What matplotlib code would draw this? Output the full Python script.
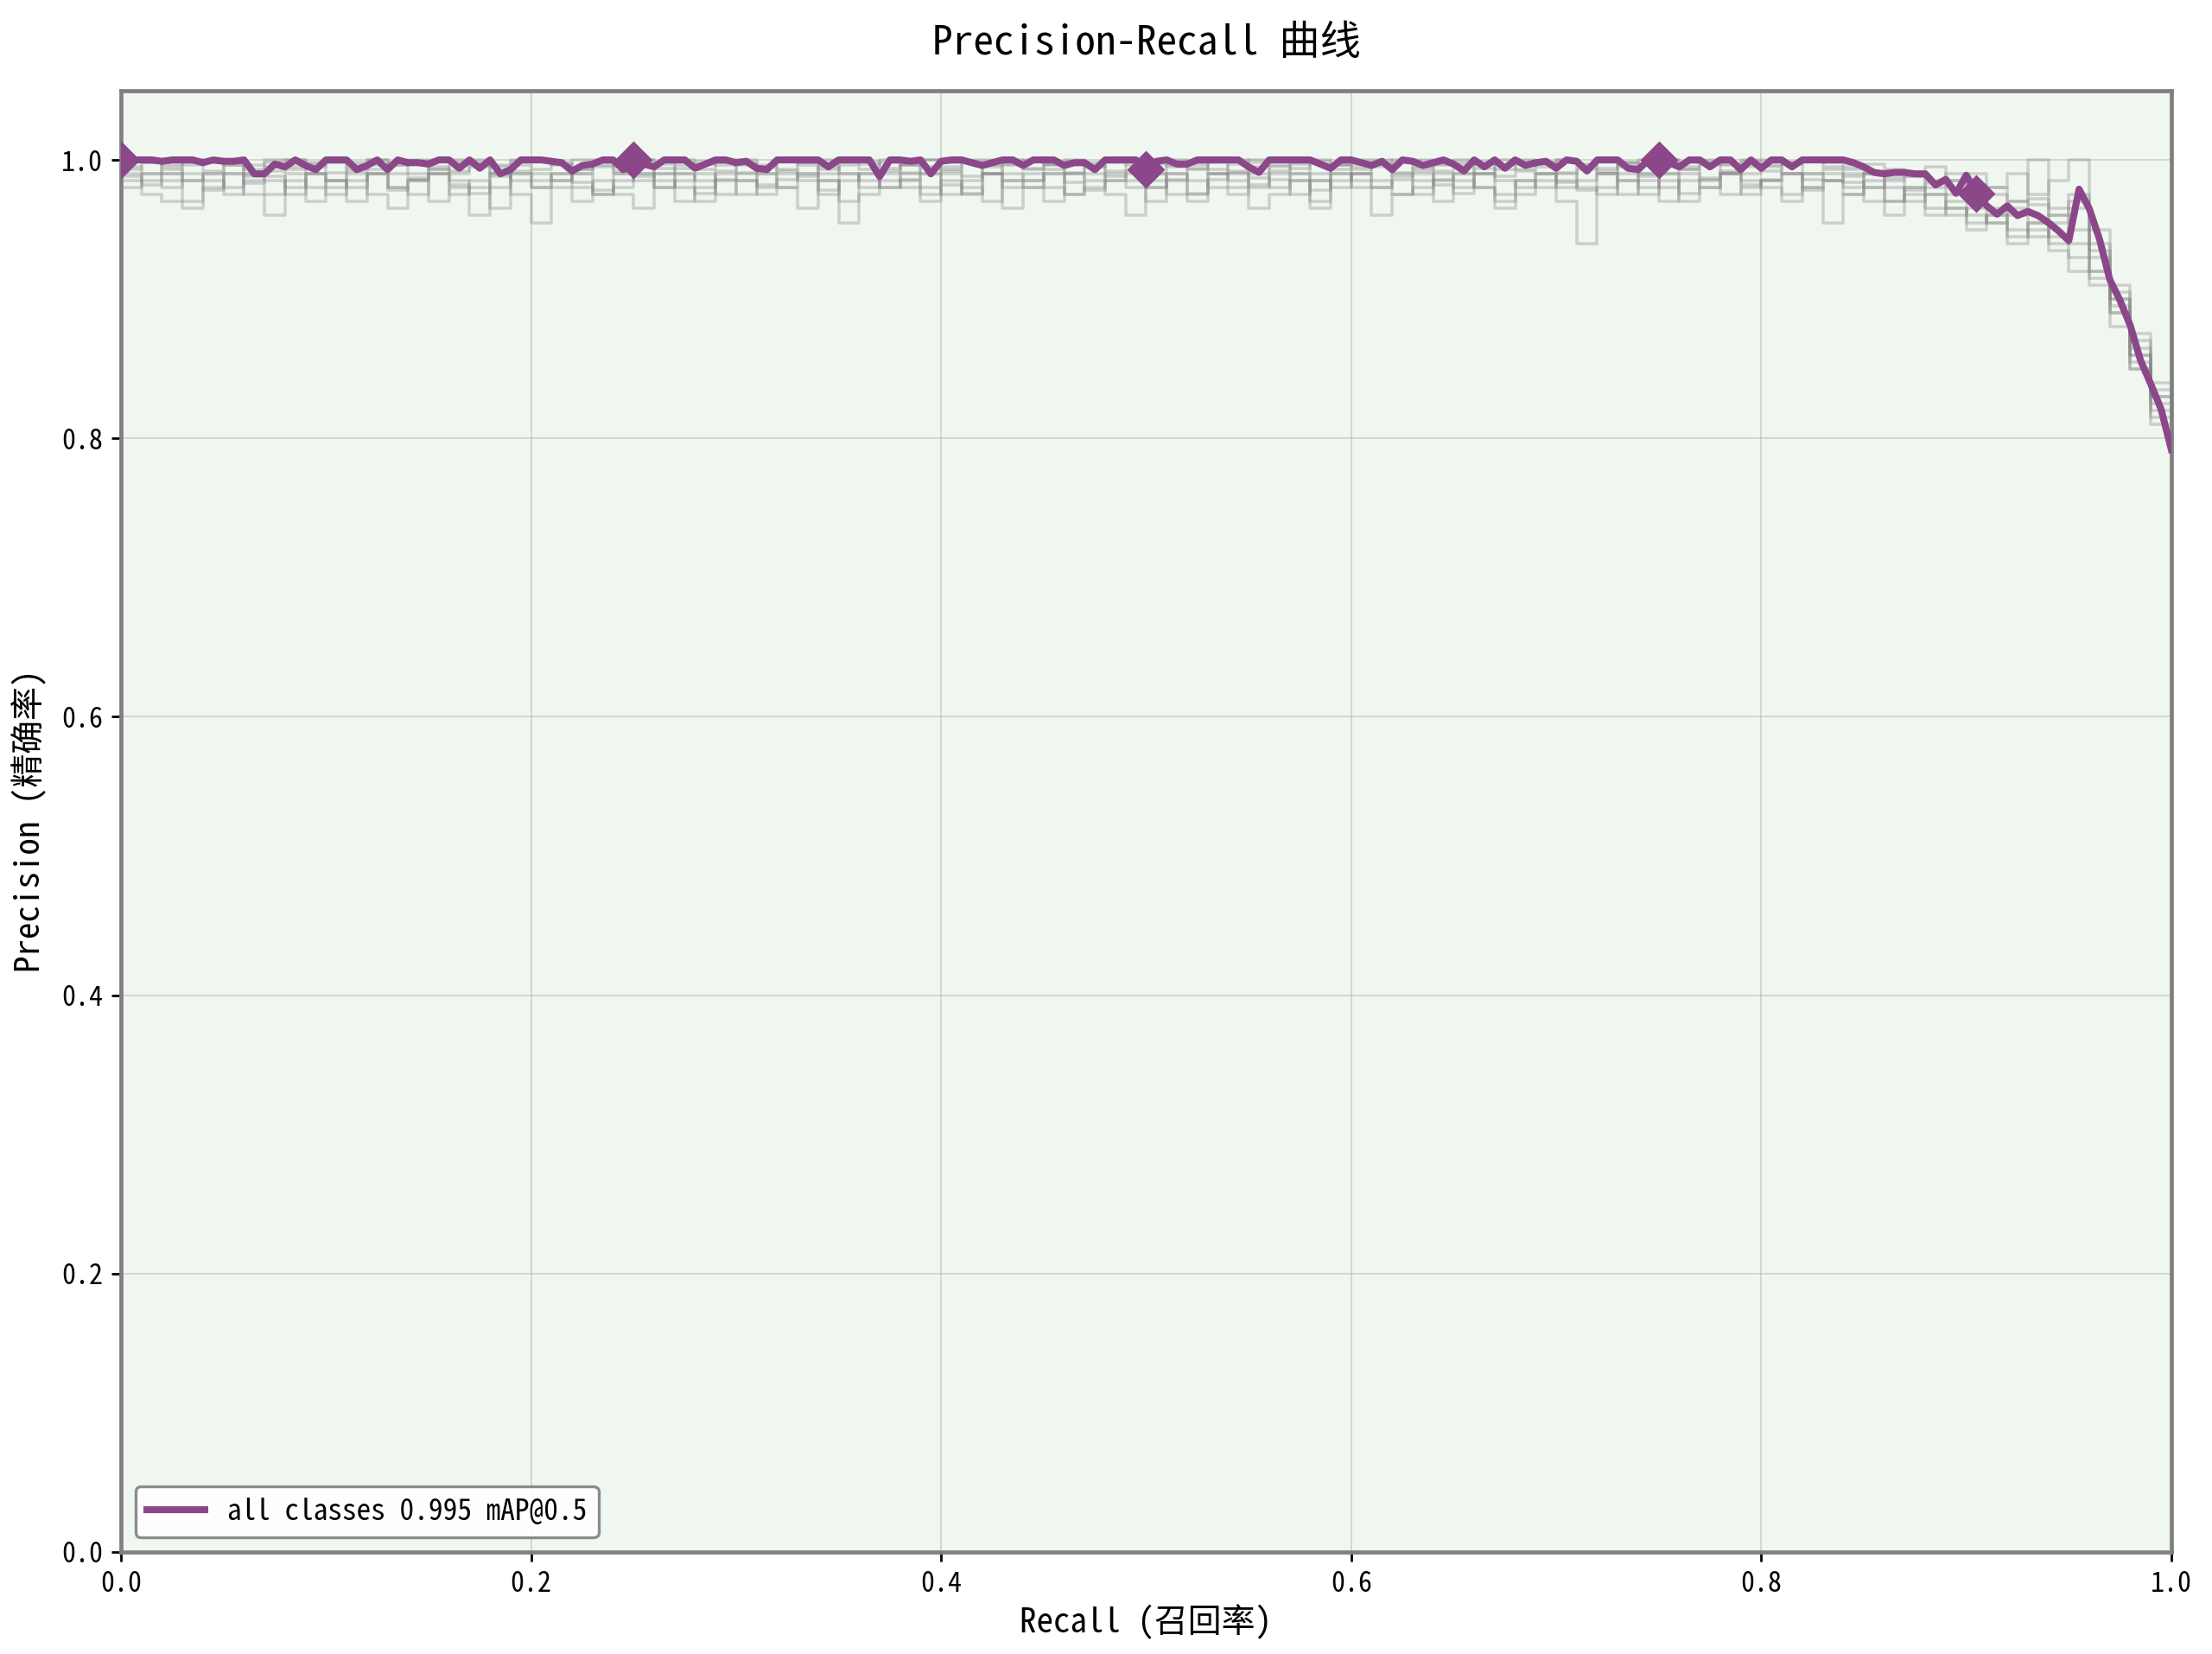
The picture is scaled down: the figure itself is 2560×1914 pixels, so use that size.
import numpy as np
import matplotlib
matplotlib.use("Agg")
import matplotlib.pyplot as plt

# ---------------- data ----------------
main_precision = [
    1.0, 1.0, 1.0, 1.0, 0.999, 1.0, 1.0, 1.0, 0.998, 1.0,
    0.999, 0.999, 1.0, 0.99, 0.99, 0.997, 0.995, 1.0, 0.996, 0.993,
    1.0, 1.0, 1.0, 0.993, 0.996, 1.0, 0.993, 1.0, 0.998, 0.998,
    0.997, 1.0, 1.0, 0.994, 1.0, 0.994, 1.0, 0.99, 0.993, 1.0,
    1.0, 1.0, 0.999, 0.998, 0.992, 0.996, 0.997, 1.0, 1.0, 0.993,
    1.0, 0.997, 0.995, 1.0, 1.0, 1.0, 0.994, 0.997, 1.0, 1.0,
    0.998, 0.999, 0.994, 0.993, 1.0, 1.0, 1.0, 1.0, 1.0, 0.995,
    1.0, 1.0, 1.0, 1.0, 0.988, 1.0, 1.0, 0.999, 1.0, 0.99,
    0.999, 1.0, 1.0, 0.998, 0.996, 0.998, 1.0, 1.0, 0.996, 1.0,
    1.0, 1.0, 0.996, 0.998, 0.998, 0.993, 1.0, 1.0, 1.0, 1.0,
    0.993, 0.999, 1.0, 0.997, 0.997, 1.0, 1.0, 1.0, 1.0, 1.0,
    0.995, 0.991, 1.0, 1.0, 1.0, 1.0, 1.0, 0.997, 0.994, 1.0,
    1.0, 0.998, 0.996, 0.999, 0.993, 1.0, 0.999, 0.996, 0.998, 1.0,
    0.997, 0.992, 1.0, 0.995, 1.0, 0.994, 1.0, 0.996, 0.998, 0.999,
    0.994, 1.0, 0.999, 0.992, 1.0, 1.0, 1.0, 0.994, 0.993, 1.0,
    1.0, 0.998, 0.995, 1.0, 1.0, 0.995, 1.0, 1.0, 0.993, 1.0,
    0.994, 1.0, 1.0, 0.995, 1.0, 1.0, 1.0, 1.0, 1.0, 0.998,
    0.995, 0.991, 0.990, 0.991, 0.991, 0.990, 0.990, 0.982, 0.986, 0.976,
    0.989, 0.976, 0.967, 0.961, 0.967, 0.960, 0.963, 0.960, 0.955, 0.949,
    0.942, 0.979, 0.965, 0.943, 0.914, 0.899, 0.881, 0.856, 0.839, 0.821, 0.792,
]
marker_idx = [0, 50, 100, 150, 181]

class_1 = [1.0, 0.998, 0.995, 0.998, 1.0, 0.996, 0.993, 0.998, 1.0, 0.995,
           0.998, 0.994, 1.0, 0.996, 0.998, 0.993, 1.0, 0.997, 0.995, 0.999,
           1.0, 0.996, 0.993, 0.998, 0.995, 1.0, 0.997, 0.994, 0.999, 0.996,
           0.998, 0.995, 1.0, 0.996, 0.993, 0.998, 0.999, 0.994, 0.997, 1.0,
           0.995, 0.998, 0.996, 1.0, 0.994, 0.997, 0.999, 0.995, 0.998, 0.996,
           1.0, 0.995, 0.998, 0.993, 0.997, 1.0, 0.996, 0.994, 0.999, 0.997,
           0.995, 0.998, 1.0, 0.994, 0.997, 0.996, 0.999, 0.993, 0.998, 0.995,
           1.0, 0.997, 0.994, 0.998, 0.996, 1.0, 0.995, 0.998, 0.997, 0.999,
           0.996, 0.998, 1.0, 0.995, 0.993, 0.99, 0.992, 0.988, 0.985, 0.99,
           0.982, 0.975, 0.97, 0.968, 0.96, 0.975, 0.94, 0.905, 0.87, 0.835]
class_2 = [0.995, 0.99, 0.993, 0.985, 0.99, 0.996, 0.988, 0.992, 0.995, 0.99,
           0.985, 0.992, 0.996, 0.99, 0.987, 0.993, 0.99, 0.995, 0.988, 0.992,
           0.99, 0.985, 0.993, 0.996, 0.99, 0.988, 0.994, 0.99, 0.985, 0.992,
           0.996, 0.99, 0.993, 0.988, 0.995, 0.99, 0.985, 0.992, 0.996, 0.99,
           0.993, 0.988, 0.995, 0.99, 0.985, 0.993, 0.99, 0.996, 0.988, 0.992,
           0.99, 0.986, 0.994, 0.99, 0.992, 0.987, 0.995, 0.99, 0.985, 0.993,
           0.99, 0.995, 0.988, 0.992, 0.986, 0.99, 0.994, 0.988, 0.992, 0.99,
           0.985, 0.993, 0.99, 0.995, 0.988, 0.99, 0.993, 0.987, 0.992, 0.99,
           0.995, 0.99, 0.986, 0.99, 0.984, 0.98, 0.987, 0.978, 0.983, 0.975,
           0.97, 0.965, 0.96, 0.972, 0.955, 0.965, 0.93, 0.9, 0.86, 0.82]
class_3 = [0.985, 0.975, 0.97, 0.965, 0.98, 0.99, 0.975, 0.96, 0.985, 0.97,
           0.98, 0.99, 0.975, 0.965, 0.985, 0.97, 0.98, 0.96, 0.99, 0.975,
           0.955, 0.98, 0.97, 0.985, 0.975, 0.965, 0.99, 0.98, 0.97, 0.985,
           0.975, 0.99, 0.98, 0.965, 0.985, 0.955, 0.975, 0.99, 0.98, 0.97,
           0.985, 0.975, 0.99, 0.965, 0.98, 0.97, 0.99, 0.985, 0.975, 0.96,
           0.985, 0.975, 0.97, 0.99, 0.98, 0.965, 0.975, 0.985, 0.97, 0.99,
           0.98, 0.96, 0.975, 0.985, 0.97, 0.99, 0.98, 0.965, 0.975, 0.985,
           0.97, 0.94, 0.98, 0.99, 0.975, 0.985, 0.97, 0.98, 0.99, 0.975,
           0.985, 0.97, 0.98, 0.955, 0.975, 0.985, 0.97, 0.98, 0.96, 0.965,
           0.95, 0.96, 0.94, 0.955, 0.935, 0.92, 0.91, 0.88, 0.85, 0.81]
class_4 = [0.99, 0.985, 0.98, 0.99, 0.985, 0.975, 0.99, 0.985, 0.98, 0.99,
           0.975, 0.985, 0.99, 0.98, 0.985, 0.99, 0.975, 0.985, 0.98, 0.99,
           0.985, 0.99, 0.98, 0.975, 0.985, 0.99, 0.98, 0.985, 0.99, 0.975,
           0.985, 0.98, 0.99, 0.985, 0.975, 0.99, 0.98, 0.985, 0.99, 0.98,
           0.975, 0.985, 0.99, 0.98, 0.985, 0.99, 0.975, 0.98, 0.985, 0.99,
           0.98, 0.985, 0.975, 0.99, 0.985, 0.98, 0.99, 0.975, 0.985, 0.98,
           0.99, 0.985, 0.975, 0.98, 0.99, 0.985, 0.98, 0.975, 0.985, 0.99,
           0.98, 0.985, 0.99, 0.975, 0.985, 0.98, 0.99, 0.985, 0.975, 0.98,
           0.985, 0.99, 0.98, 0.985, 0.975, 0.99, 0.98, 0.97, 0.975, 0.965,
           0.96, 0.955, 0.965, 0.95, 0.945, 0.94, 0.915, 0.89, 0.855, 0.825]
class_5 = [1.0, 1.0, 0.997, 1.0, 0.998, 1.0, 0.996, 1.0, 1.0, 0.997,
           1.0, 0.998, 1.0, 0.996, 1.0, 1.0, 0.998, 1.0, 0.996, 1.0,
           1.0, 0.997, 1.0, 1.0, 0.996, 1.0, 0.998, 1.0, 0.997, 1.0,
           1.0, 0.996, 1.0, 0.998, 1.0, 1.0, 0.997, 1.0, 0.996, 1.0,
           0.998, 1.0, 1.0, 0.997, 1.0, 0.996, 1.0, 0.998, 1.0, 1.0,
           0.997, 1.0, 0.996, 1.0, 1.0, 0.998, 1.0, 0.997, 1.0, 0.996,
           1.0, 1.0, 0.998, 1.0, 0.996, 1.0, 0.997, 1.0, 1.0, 0.998,
           1.0, 0.996, 1.0, 0.997, 1.0, 1.0, 0.998, 1.0, 0.996, 1.0,
           1.0, 0.997, 1.0, 0.998, 0.995, 0.997, 0.993, 0.99, 0.995, 0.985,
           0.99, 0.98, 0.99, 0.975, 0.985, 1.0, 0.95, 0.91, 0.875, 0.84]
class_6 = [0.98, 0.99, 0.985, 0.97, 0.99, 0.98, 0.985, 0.975, 0.99, 0.98,
           0.985, 0.97, 0.99, 0.98, 0.975, 0.99, 0.985, 0.98, 0.965, 0.99,
           0.98, 0.985, 0.99, 0.975, 0.98, 0.99, 0.985, 0.97, 0.98, 0.99,
           0.985, 0.975, 0.98, 0.99, 0.985, 0.97, 0.99, 0.98, 0.985, 0.975,
           0.99, 0.98, 0.97, 0.985, 0.99, 0.98, 0.975, 0.99, 0.985, 0.98,
           0.97, 0.99, 0.985, 0.98, 0.975, 0.99, 0.98, 0.985, 0.965, 0.99,
           0.985, 0.98, 0.99, 0.975, 0.985, 0.98, 0.99, 0.97, 0.985, 0.98,
           0.99, 0.98, 0.975, 0.985, 0.99, 0.97, 0.985, 0.98, 0.99, 0.985,
           0.98, 0.975, 0.99, 0.985, 0.98, 0.97, 0.96, 0.975, 0.965, 0.97,
           0.955, 0.96, 0.95, 0.945, 0.96, 0.93, 0.92, 0.895, 0.86, 0.83]
class_7 = [0.993, 0.998, 0.99, 0.996, 0.992, 0.998, 0.99, 0.995, 0.993, 0.998,
           0.991, 0.996, 0.993, 0.998, 0.99, 0.995, 0.992, 0.998, 0.991, 0.996,
           0.993, 0.998, 0.99, 0.995, 0.992, 0.997, 0.99, 0.996, 0.993, 0.998,
           0.991, 0.995, 0.992, 0.998, 0.99, 0.996, 0.993, 0.998, 0.991, 0.995,
           0.992, 0.998, 0.99, 0.996, 0.993, 0.997, 0.991, 0.995, 0.992, 0.998,
           0.99, 0.996, 0.993, 0.998, 0.991, 0.995, 0.992, 0.998, 0.99, 0.996,
           0.993, 0.997, 0.991, 0.995, 0.992, 0.998, 0.99, 0.996, 0.993, 0.998,
           0.991, 0.995, 0.992, 0.998, 0.99, 0.996, 0.993, 0.997, 0.991, 0.995,
           0.992, 0.998, 0.99, 0.993, 0.988, 0.99, 0.985, 0.988, 0.98, 0.985,
           0.975, 0.98, 0.97, 1.0, 0.965, 0.97, 0.935, 0.9, 0.865, 0.83]
class_8 = [0.988, 0.982, 0.99, 0.985, 0.978, 0.99, 0.983, 0.988, 0.975, 0.99,
           0.985, 0.98, 0.99, 0.978, 0.986, 0.99, 0.982, 0.976, 0.99, 0.985,
           0.98, 0.99, 0.984, 0.978, 0.99, 0.985, 0.98, 0.99, 0.976, 0.986,
           0.99, 0.982, 0.986, 0.99, 0.978, 0.985, 0.99, 0.98, 0.986, 0.99,
           0.982, 0.976, 0.99, 0.985, 0.98, 0.99, 0.984, 0.978, 0.99, 0.985,
           0.98, 0.99, 0.976, 0.986, 0.99, 0.982, 0.986, 0.99, 0.978, 0.985,
           0.99, 0.98, 0.986, 0.99, 0.982, 0.976, 0.99, 0.985, 0.98, 0.99,
           0.984, 0.978, 0.99, 0.985, 0.98, 0.99, 0.976, 0.986, 0.99, 0.982,
           0.986, 0.99, 0.978, 0.985, 0.99, 0.98, 0.97, 0.98, 0.975, 0.96,
           0.965, 0.955, 0.945, 0.955, 0.94, 0.95, 0.92, 0.89, 0.85, 0.815]
class_curves = [class_1, class_2, class_3, class_4, class_5, class_6, class_7, class_8]

legend_label = "all classes 0.995 mAP@0.5"
title_text = "Precision-Recall 曲线"
xlabel_text = "Recall (召回率)"
ylabel_text = "Precision (精确率)"
x_ticks = [0.0, 0.2, 0.4, 0.6, 0.8, 1.0]
y_ticks = [0.0, 0.2, 0.4, 0.6, 0.8, 1.0]

# ---------------- style ----------------
plt.rcParams["font.family"] = ["Noto Sans Mono CJK SC", "Noto Sans CJK SC", "DejaVu Sans"]

fig = plt.figure(figsize=(12.8, 9.57), dpi=200)
ax = fig.add_axes([0.0547, 0.0617, 0.9269, 0.8837])
ax.set_facecolor("#f0f7f0")

for cv in class_curves:
    ys = np.append(np.array(cv), cv[-1])
    xs = np.linspace(0, 1, len(ys))
    ax.step(xs, ys, where="post", color="#808080", alpha=0.32, linewidth=1.3, zorder=2)

mp = np.array(main_precision)
mr = np.linspace(0, 1, len(mp))
ax.plot(mr, mp, color="#8b4789", linewidth=2.9, label=legend_label, zorder=4)
ax.plot(mr, mp, color="#8b4789", linestyle="none", marker="D", markersize=10,
        markevery=marker_idx, zorder=5)

ax.set_xlim(0, 1)
ax.set_ylim(0, 1.05)
ax.set_xticks(x_ticks)
ax.set_yticks(y_ticks)
ax.set_xticklabels([f"{v:.1f}" for v in x_ticks])
ax.set_yticklabels([f"{v:.1f}" for v in y_ticks])
ax.tick_params(labelsize=11.5, length=4, width=1)
ax.grid(True, color="#b0b8b0", alpha=0.5, linewidth=0.7, zorder=0)
ax.set_axisbelow(True)
for s in ax.spines.values():
    s.set_color("#808080")
    s.set_linewidth(1.7)

ax.set_title(title_text, fontsize=17, pad=15)
ax.set_xlabel(xlabel_text, fontsize=14, labelpad=3)
ax.set_ylabel(ylabel_text, fontsize=14, labelpad=6)

leg = ax.legend(loc="lower left", fontsize=12, frameon=True, fancybox=True,
                framealpha=0.9, edgecolor="#808080")
leg.get_frame().set_linewidth(1.2)

fig.savefig("out.png", dpi=200)
